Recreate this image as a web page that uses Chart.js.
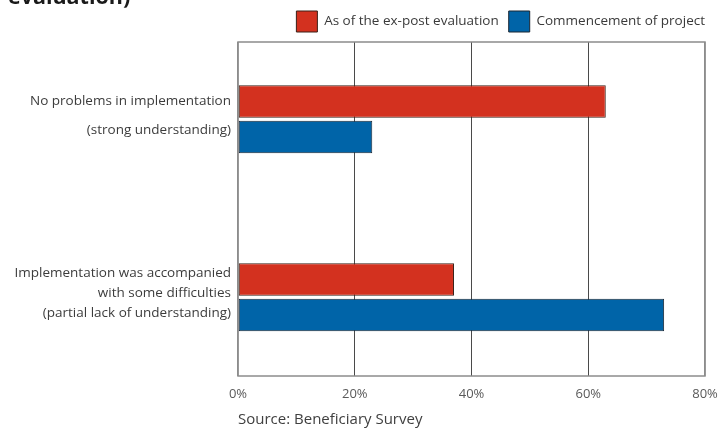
<!DOCTYPE html>
<html>
<head>
<meta charset="utf-8">
<script src="https://cdn.jsdelivr.net/npm/chart.js@4.4.0/dist/chart.umd.min.js"></script>
<style>
  html, body { margin: 0; padding: 0; background: #fff; }
  #wrap { position: relative; width: 720px; height: 434px; overflow: hidden; }
  #heading {
    position: absolute; left: 8px; top: -14px;
    font: bold 21.5px "Open Sans", sans-serif; line-height: 20px; color: #1a1a1a;
  }
</style>
</head>
<body>
<div id="wrap">
  <canvas id="understandingChart" width="720" height="434"></canvas>
  <div id="heading">evaluation)</div>
</div>
<script>
// Categories (multi-line axis labels) and the two survey series, in %
const categories = [
  ['No problems in implementation', '', '(strong understanding)'],
  ['Implementation was accompanied', 'with some difficulties', '(partial lack of understanding)']
];
const seriesNames = ['As of the ex-post evaluation', 'Commencement of project'];
const expostValues = [63, 37];
const commencementValues = [23, 73];
const xTickValues = [0, 20, 40, 60, 80];

const FONT = '"Open Sans", sans-serif';

// thin grey frame round the plot area
const framePlugin = {
  id: 'frame',
  beforeDatasetsDraw(chart) {
    const { ctx, chartArea: a } = chart;
    ctx.save();
    ctx.strokeStyle = '#8c8c8c';
    ctx.lineWidth = 1.5;
    ctx.strokeRect(a.left, a.top, a.right - a.left, a.bottom - a.top);
    ctx.restore();
  }
};

const ctx = document.getElementById('understandingChart').getContext('2d');
const understandingChart = new Chart(ctx, {
  type: 'bar',
  data: {
    labels: categories,
    datasets: [{
      label: seriesNames[0],
      data: expostValues,
      backgroundColor: '#d3311f',
      borderColor: '#3a2018',
      borderWidth: 1,
      borderSkipped: false
    }, {
      label: seriesNames[1],
      data: commencementValues,
      backgroundColor: '#0064a8',
      borderColor: '#1a2633',
      borderWidth: 1,
      borderSkipped: false
    }]
  },
  options: {
    indexAxis: 'y',
    responsive: false,
    animation: false,
    categoryPercentage: 0.4,
    barPercentage: 0.915,
    layout: { padding: { top: 1, right: 5, bottom: 0, left: 0 } },
    scales: {
      x: {
        min: 0,
        max: 80,
        afterBuildTicks: (scale) => { scale.ticks = xTickValues.map(v => ({ value: v })); },
        // fixed axis band; the "80%" label hangs over the right edge of the plot
        afterFit: (scale) => { scale.height = 28; scale.paddingRight = 15; },
        border: { display: false },
        grid: {
          drawTicks: false,
          color: (c) => (c.index === 0 || c.index === xTickValues.length - 1) ? '#8c8c8c' : '#4a4a4a',
          lineWidth: (c) => (c.index === 0 || c.index === xTickValues.length - 1) ? 1.5 : 1
        },
        ticks: {
          padding: 10,
          color: '#5a5a5a',
          font: { family: FONT, size: 13 },
          callback: (v) => v + '%'
        }
      },
      y: {
        border: { display: false },
        grid: { display: false, drawTicks: false },
        afterFit: (scale) => { scale.width = 238; },
        // spread the two category centres a little wider than an even split
        afterBuildTicks: (scale) => { scale._startValue = -0.434; scale._valueRange = 1.8765; },
        ticks: {
          padding: 7,
          labelOffset: -4,
          color: '#3c3c3c',
          font: (c) => ({ family: FONT, size: 13.5, lineHeight: c.index === 0 ? '14.5px' : '20px' })
        }
      }
    },
    plugins: {
      legend: {
        align: 'end',
        labels: {
          boxWidth: 21,
          boxHeight: 21,
          padding: 10,
          color: '#3a3a3a',
          font: { family: FONT, size: 13.5 }
        }
      },
      title: {
        display: true,
        text: 'Source: Beneficiary Survey',
        position: 'bottom',
        align: 'start',
        fullSize: false,
        color: '#404040',
        font: { family: FONT, size: 15, weight: 'normal' },
        padding: { top: 7, bottom: 5 }
      },
      tooltip: { enabled: false }
    }
  },
  plugins: [framePlugin]
});
</script>
</body>
</html>
